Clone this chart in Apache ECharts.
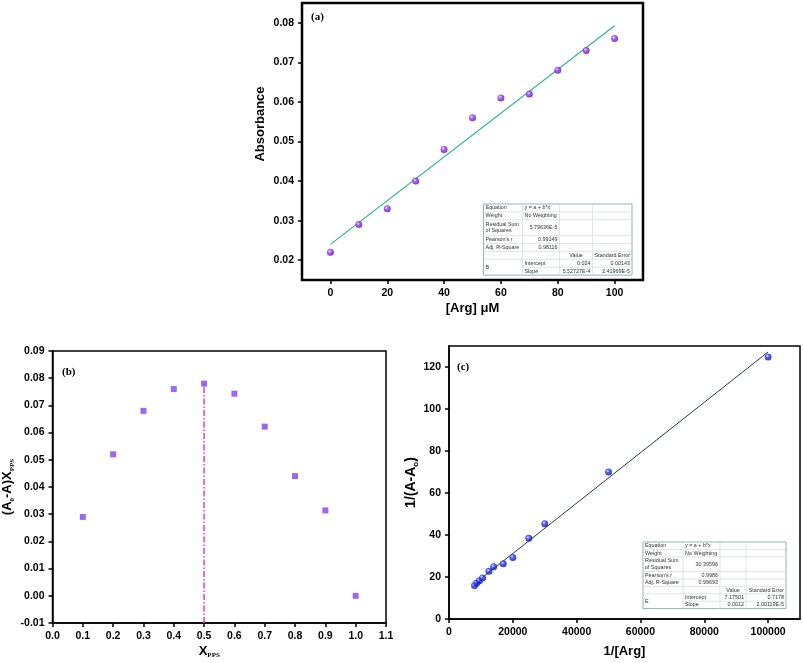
<!DOCTYPE html>
<html>
<head>
<meta charset="utf-8">
<script src="https://cdn.jsdelivr.net/npm/echarts@6/dist/echarts.min.js"></script>
<style>
  html, body { margin: 0; padding: 0; background: #fff; }
  #main { width: 803px; height: 663px; }
</style>
</head>
<body>
<div id="main"></div>
<script>
// (a) absorbance vs [Arg]
var argConc = [0, 10, 20, 30, 40, 50, 60, 70, 80, 90, 100];
var absorbance = [0.022, 0.029, 0.033, 0.040, 0.048, 0.056, 0.061, 0.062, 0.068, 0.073, 0.076];
var fitAIntercept = 0.024;
var fitASlope = 5.52727E-4;
var aXTicks = [0, 20, 40, 60, 80, 100];
var aYTicks = [0.02, 0.03, 0.04, 0.05, 0.06, 0.07, 0.08];

// (b) Job plot
var xPPS = [0.1, 0.2, 0.3, 0.4, 0.5, 0.6, 0.7, 0.8, 0.9, 1.0];
var jobY = [0.029, 0.052, 0.068, 0.076, 0.078, 0.0743, 0.0622, 0.044, 0.0314, 0.0];
var bXTicks = [0.0, 0.1, 0.2, 0.3, 0.4, 0.5, 0.6, 0.7, 0.8, 0.9, 1.0, 1.1];
var bYTicks = [-0.01, 0.00, 0.01, 0.02, 0.03, 0.04, 0.05, 0.06, 0.07, 0.08, 0.09];

// (c) Benesi-Hildebrand
var invArg = [8000, 8700, 9500, 10500, 12500, 14000, 17000, 20000, 25000, 30000, 50000, 100000];
var invDA = [16.0, 17.1, 18.2, 19.5, 22.7, 24.9, 26.3, 29.3, 38.4, 45.4, 70.0, 124.8];
var fitCIntercept = 7.17501;
var fitCSlope = 0.0012;
var cXTicks = [0, 20000, 40000, 60000, 80000, 100000];
var cYTicks = [0, 20, 40, 60, 80, 100, 120];

// fit tables
var tableA = [
  ['Equation', 'y = a + b*x', '', ''],
  ['Weight', 'No Weighting', '', ''],
  ['Residual Sum\nof Squares', '5.79636E-5', '', ''],
  ["Pearson's r", '0.99149', '', ''],
  ['Adj. R-Square', '0.98116', '', ''],
  ['', '', 'Value', 'Standard Error'],
  ['B', 'Intercept', '0.024', '0.00143'],
  ['', 'Slope', '5.52727E-4', '2.41969E-5']
];
var tableC = [
  ['Equation', 'y = a + b*x', '', ''],
  ['Weight', 'No Weighting', '', ''],
  ['Residual Sum\nof Squares', '30.39596', '', ''],
  ["Pearson's r", '0.9986', '', ''],
  ['Adj. R-Square', '0.99693', '', ''],
  ['', '', 'Value', 'Standard Error'],
  ['E', 'Intercept', '7.17501', '0.7178'],
  ['', 'Slope', '0.0012', '2.00119E-5']
];

var chart = echarts.init(document.getElementById('main'));
var SANS = 'Liberation Sans';
var SERIF = 'Liberation Serif';

function zip(xs, ys) {
  return xs.map(function (x, i) { return [x, ys[i]]; });
}
function fitLine(x0, x1, a, b) {
  return [[x0, a + b * x0], [x1, a + b * x1]];
}
function sphere(light, mid, dark) {
  return {
    type: 'radial', x: 0.38, y: 0.35, r: 0.7,
    colorStops: [{ offset: 0, color: light }, { offset: 0.35, color: mid }, { offset: 1, color: dark }]
  };
}

// Origin-style fit table drawn as graphic elements
function buildTable(x0, y0, colW, unitH, rows) {
  var units = [1, 1, 2, 1, 1, 1, 1, 1];
  var els = [];
  var colX = [x0];
  colW.forEach(function (w) { colX.push(colX[colX.length - 1] + w); });
  var totalW = colX[colX.length - 1] - x0;
  var rowY = [y0];
  units.forEach(function (u) { rowY.push(rowY[rowY.length - 1] + u * unitH); });
  var totalH = rowY[rowY.length - 1] - y0;
  els.push({ type: 'rect', shape: { x: x0, y: y0, width: totalW, height: totalH },
    style: { fill: '#fff', stroke: '#93b3b3', lineWidth: 1 }, z: 10 });
  for (var r = 1; r < units.length; r++) {
    var startX = (r === 7) ? colX[1] : x0;
    els.push({ type: 'line', shape: { x1: startX, y1: rowY[r], x2: x0 + totalW, y2: rowY[r] },
      style: { stroke: '#d4dada', lineWidth: 0.7 }, z: 11 });
  }
  for (var c = 1; c < colW.length; c++) {
    els.push({ type: 'line', shape: { x1: colX[c], y1: y0, x2: colX[c], y2: y0 + totalH },
      style: { stroke: '#d4dada', lineWidth: 0.7 }, z: 11 });
  }
  rows.forEach(function (row, ri) {
    row.forEach(function (txt, ci) {
      if (!txt) return;
      var align = 'left';
      if (ci === 1 && (ri === 2 || ri === 3 || ri === 4)) align = 'right';
      if (ci >= 2) align = 'right';
      if (ci === 2 && ri === 5) align = 'center';
      var x = align === 'left' ? colX[ci] + 2 : (align === 'right' ? colX[ci + 1] - 2 : (colX[ci] + colX[ci + 1]) / 2);
      var yc = (rowY[ri] + rowY[ri + 1]) / 2;
      if (ci === 0 && ri === 6) yc = rowY[7];
      els.push({ type: 'text', x: x, y: yc, z: 12,
        style: { text: txt, fill: '#333', fontSize: 5.4, fontFamily: SANS, lineHeight: 6.5,
          align: align, textAlign: align, verticalAlign: 'middle', textVerticalAlign: 'middle' } });
    });
  });
  return els;
}

function valueAxis(grid, min, max, ticks, fmt, extra) {
  var o = {
    gridIndex: grid, type: 'value', min: min, max: max, scale: true,
    axisLine: { show: true, onZero: false, lineStyle: { color: '#000', width: 1.5 } },
    axisTick: { show: true, customValues: ticks, length: 4, lineStyle: { color: '#000', width: 1.5 } },
    axisLabel: { customValues: ticks, formatter: fmt, color: '#000', fontSize: 10.5,
      fontWeight: 'bold', fontFamily: SANS, margin: 8 },
    splitLine: { show: false },
    nameLocation: 'middle',
    nameTextStyle: { color: '#000', fontSize: 13, fontWeight: 'bold', fontFamily: SANS }
  };
  for (var k in extra) o[k] = extra[k];
  return o;
}

var subRich = {
  n: { fontSize: 13, fontWeight: 'bold', fontFamily: SANS, color: '#000', lineHeight: 16 },
  s: { fontSize: 7, fontWeight: 'bold', fontFamily: SERIF, color: '#000', verticalAlign: 'bottom', lineHeight: 9 }
};

var option = {
  backgroundColor: '#fff',
  animation: false,
  grid: [
    { left: 302, top: 3, width: 341, height: 277, show: true, borderColor: '#000', borderWidth: 2.5, backgroundColor: 'transparent' },
    { left: 51, top: 351, width: 335, height: 272, show: true, borderColor: '#000', borderWidth: 1.5, backgroundColor: 'transparent' },
    { left: 449, top: 346, width: 351, height: 273, show: true, borderColor: '#000', borderWidth: 1.5, backgroundColor: 'transparent' }
  ],
  xAxis: [
    valueAxis(0, -10, 110, aXTicks, function (v) { return String(v); }, {
      name: '[Arg] μM', nameGap: 22
    }),
    valueAxis(1, 0, 1.1, bXTicks, function (v) { return v.toFixed(1); }, {
      name: '{n|X}{s|PPS}', nameGap: 20,
      nameTextStyle: { rich: subRich, padding: [0, 20, 0, 0] }
    }),
    valueAxis(2, 0, 110000, cXTicks, function (v) { return String(v); }, {
      name: '1/[Arg]', nameGap: 26
    })
  ],
  yAxis: [
    valueAxis(0, 0.015, 0.085, aYTicks, function (v) { return v.toFixed(2); }, {
      name: 'Absorbance', nameGap: 35,
      nameTextStyle: { color: '#000', fontSize: 13, fontWeight: 'bold', fontFamily: SANS, padding: [0, 0, 0, 35] }
    }),
    valueAxis(1, -0.01, 0.09, bYTicks, function (v) { return v.toFixed(2); }, {
      name: '{n|(A}{s|0}{n|-A)X}{s|PPS}', nameGap: 37,
      nameTextStyle: { rich: subRich }
    }),
    valueAxis(2, 0, 130, cYTicks, function (v) { return String(v); }, {
      name: '{n|1/(A-A}{s|o}{n|)}', nameGap: 25,
      nameTextStyle: { rich: {
        n: { fontSize: 14, fontWeight: 'bold', fontFamily: SANS, color: '#000', lineHeight: 16 },
        s: { fontSize: 8, fontWeight: 'bold', fontFamily: SANS, color: '#000', verticalAlign: 'bottom', lineHeight: 9 }
      } }
    })
  ],
  series: [
    {
      type: 'line', xAxisIndex: 0, yAxisIndex: 0, z: 2,
      data: fitLine(argConc[0], argConc[argConc.length - 1], fitAIntercept, fitASlope),
      symbol: 'none', lineStyle: { color: '#2ab58c', width: 1.2 }
    },
    {
      type: 'scatter', xAxisIndex: 0, yAxisIndex: 0, z: 3,
      data: zip(argConc, absorbance), symbol: 'circle', symbolSize: 7,
      itemStyle: { color: sphere('#f3e8ff', '#9a3cf0', '#5208b0') }
    },
    {
      type: 'line', xAxisIndex: 1, yAxisIndex: 1, z: 2,
      data: [[xPPS[4], bYTicks[0]], [xPPS[4], jobY[4]]],
      symbol: 'none', lineStyle: { color: '#e03ae0', width: 1.5, type: [6, 2, 1.5, 2] }
    },
    {
      type: 'scatter', xAxisIndex: 1, yAxisIndex: 1, z: 3,
      data: zip(xPPS, jobY), symbol: 'rect', symbolSize: 6,
      itemStyle: { color: '#8442ea' }
    },
    {
      type: 'line', xAxisIndex: 2, yAxisIndex: 2, z: 2,
      data: fitLine(invArg[0], invArg[invArg.length - 1], fitCIntercept, fitCSlope),
      symbol: 'none', lineStyle: { color: '#2a3a3a', width: 1 }
    },
    {
      type: 'scatter', xAxisIndex: 2, yAxisIndex: 2, z: 3,
      data: zip(invArg, invDA), symbol: 'circle', symbolSize: 7,
      itemStyle: { color: sphere('#e6ecff', '#2a3af0', '#0a0a9a') }
    }
  ],
  graphic: [].concat(
    buildTable(483.5, 204, [39, 37, 33, 39.5], 7.9, tableA),
    buildTable(643, 542, [40, 37, 26, 40], 7.4, tableC),
    [
      { type: 'text', x: 311, y: 17, style: { text: '(a)', fill: '#000', fontSize: 11, fontWeight: 'bold', fontFamily: SERIF, verticalAlign: 'middle', textVerticalAlign: 'middle' } },
      { type: 'text', x: 62, y: 372, style: { text: '(b)', fill: '#000', fontSize: 11, fontWeight: 'bold', fontFamily: SERIF, verticalAlign: 'middle', textVerticalAlign: 'middle' } },
      { type: 'text', x: 457, y: 367, style: { text: '(c)', fill: '#000', fontSize: 11, fontWeight: 'bold', fontFamily: SERIF, verticalAlign: 'middle', textVerticalAlign: 'middle' } }
    ]
  )
};

chart.setOption(option);
</script>
</body>
</html>
